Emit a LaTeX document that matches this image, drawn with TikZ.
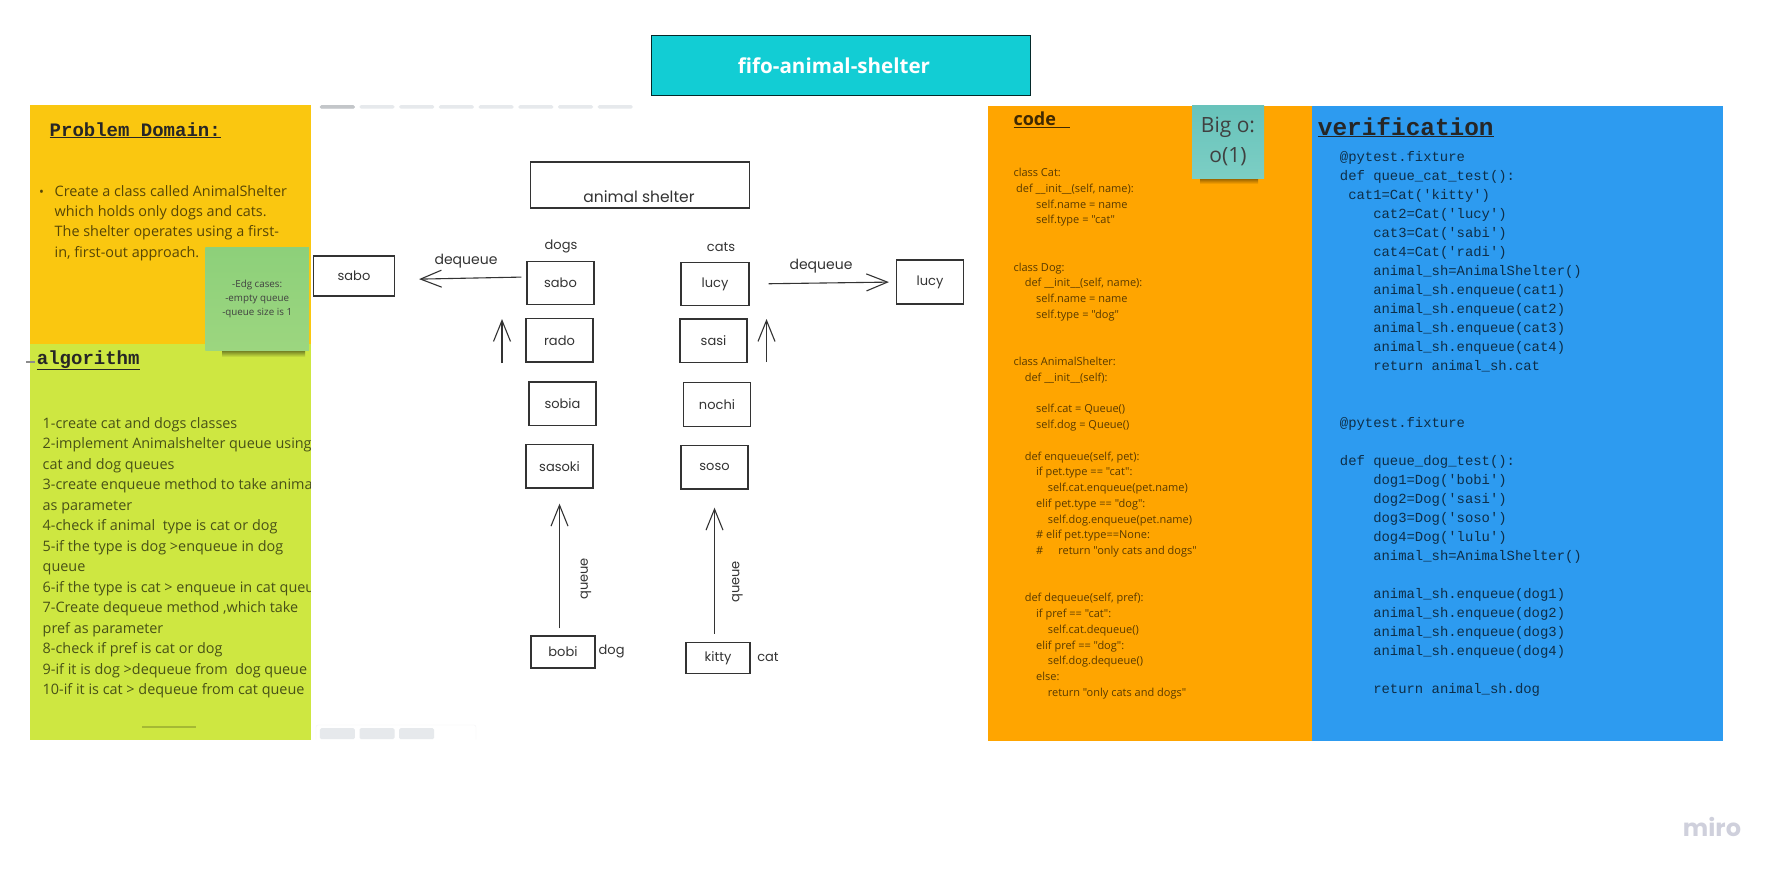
\documentclass[tikz,border=0pt]{standalone}
\usepackage{fontspec}
\usetikzlibrary{arrows.meta, positioning}
\newfontfamily\bodyfont{Open Sans}
\newfontfamily\monofont{Liberation Mono}
\newfontfamily\handfont{Poppins}
\definecolor{paneyellow}{HTML}{FAC710}
\definecolor{panelime}{HTML}{CEE741}
\definecolor{paneorange}{HTML}{FFA500}
\definecolor{paneblue}{HTML}{2D9BF0}
\definecolor{titlecyan}{HTML}{12CDD4}
\definecolor{pillgrey}{HTML}{E6E9EC}
\definecolor{sketchink}{HTML}{333333}
\definecolor{edgetop}{HTML}{8DD07A}
\definecolor{edgebottom}{HTML}{9CD67F}
\definecolor{bigotop}{HTML}{68C3BB}
\definecolor{bigobottom}{HTML}{7CCEC4}
\definecolor{logogrey}{HTML}{CFD0DC}
\newcommand{\ind}[1]{\hspace*{#1pt}}
\tikzset{
  paneltext/.style={inner sep=0pt, anchor=north west, align=left},
  monotext/.style={paneltext, font=\monofont\fontsize{13.9}{19}\selectfont, text=black!70!paneblue},
  sketchbox/.style={draw=sketchink, line width=1.2pt, minimum width=67pt, minimum height=43.5pt, inner sep=0pt, font=\handfont\fontsize{13}{15}\selectfont, text=sketchink},
  sketchtext/.style={inner sep=0pt, font=\handfont\fontsize{13}{15}\selectfont, text=sketchink},
  sketcharrow/.style={draw=sketchink, line width=1.1pt, ->},
  pill/.style={fill=pillgrey, rounded corners=1.5pt, minimum width=35pt, inner sep=0pt},
  sticky/.style={inner sep=0pt, align=center, text=black!75},
}
\begin{document}
\begin{tikzpicture}[x=1pt, y=-1pt, >={Straight Barb[length=21pt,width=17pt]}]
  \useasboundingbox (0,0) rectangle (1782,876);

  % panels
  \fill[paneyellow] (29.5,105) rectangle (320,345);
  \fill[panelime]   (29.5,344) rectangle (320,740);
  \fill[paneorange] (988,106) rectangle (1312,741);
  \fill[paneblue]   (1312,106) rectangle (1723,741);
  \node[draw=black!80!titlecyan, line width=1pt, fill=titlecyan, minimum width=379pt, minimum height=60pt, inner sep=0pt,
        text=white, font=\bodyfont\bfseries\fontsize{20.6}{25}\selectfont] (title) at (841,65.5) {fifo-animal-shelter\hspace*{14pt}};

  % left panel texts
  \node[inner sep=0pt, anchor=base west, font=\monofont\bfseries\fontsize{19}{22}\selectfont, text=black!85] (problem) at (49.5,136) {\underline{Problem~Domain:}};
  \node[inner sep=0pt, text=black!65!paneyellow, font=\bodyfont\fontsize{13}{15}\selectfont] (bullet) at (41.5,193) {•};
  \node[paneltext, text=black!65!paneyellow, font=\bodyfont\fontsize{14.4}{20.4}\selectfont] (problemtext) at (54.5,185) {Create a class called AnimalShelter\\which holds only dogs and cats.\\The shelter operates using a first-\\in, first-out approach.};
  \fill[black!45] (26,361) rectangle (35,363);
  \node[inner sep=0pt, anchor=base west, font=\monofont\bfseries\fontsize{19}{22}\selectfont, text=black!85] (algorithm) at (36.7,364) {\underline{algorithm}};
  \node[paneltext, text=black!65!panelime, font=\bodyfont\fontsize{14.4}{20.5}\selectfont] (algotext) at (42.5,417) {1-create cat and dogs classes\\
    2-implement Animalshelter queue using\\
    cat and dog queues\\
    3-create enqueue method to take animal\\
    as parameter\\
    4-check if animal\ \ type is cat or dog\\
    5-if the type is dog >enqueue in dog\\
    queue\\
    6-if the type is cat > enqueue in cat queue\\
    7-Create dequeue method ,which take\\
    pref as parameter\\
    8-check if pref is cat or dog\\
    9-if it is dog >dequeue from\ \ dog queue\\
    10-if it is cat > dequeue from cat queue};
  \fill[black!20!panelime] (141.6,726.4) rectangle (196,727.6);

  % sketch frame on top of the panel text
  \fill[white] (311,100) rectangle (988,745);
  \foreach \i in {0,...,7} {
    \node[pill, minimum height=3.5pt, anchor=north west] (toppill\i) at (319.6+39.7*\i,105) {};
  }
  \node[pill, minimum height=3.5pt, anchor=north west, fill=black!15!pillgrey] (toppillfirst) at (319.6,105) {};
  \draw[pillgrey!50, rounded corners=2pt] (316,739) -- (316,725) -- (476,725) -- (476,739);
  \foreach \i in {0,1,2} {
    \node[pill, minimum height=11pt, anchor=north west] (botpill\i) at (319.6+39.7*\i,728) {};
  }

  % sketch
  \node[sketchbox, minimum width=219pt, minimum height=46pt] (shelter) at (640,185) {};
  \node[sketchtext, font=\handfont\fontsize{15.5}{18}\selectfont] (sheltertext) at (639,197) {animal shelter};
  \node[sketchtext] (dogs) at (561,246) {dogs};
  \node[sketchtext] (cats) at (721,247) {cats};

  \node[sketchbox] (sabo) at (560.5,283) {sabo};
  \node[sketchbox] (rado) [below=57.3pt of sabo.center, anchor=center, xshift=-1pt] {rado};
  \node[sketchbox] (sobia) [below=63.5pt of rado.center, anchor=center, xshift=3pt] {sobia};
  \node[sketchbox] (sasoki) [below=62.5pt of sobia.center, anchor=center, xshift=-3pt] {sasoki};
  \node[sketchbox, minimum width=64pt, minimum height=32pt] (bobi) at (563,652) {bobi};
  \node[sketchtext] (dogtag) at (611.6,651) {dog};

  \node[sketchbox, minimum width=68pt] (lucy) at (715,284) {lucy};
  \node[sketchbox] (sasi) [below=56.7pt of lucy.center, anchor=center, xshift=-1.5pt] {sasi};
  \node[sketchbox] (nochi) [below=63.8pt of sasi.center, anchor=center, xshift=3.5pt] {nochi};
  \node[sketchbox] (soso) [below=62.8pt of nochi.center, anchor=center, xshift=-2.5pt] {soso};
  \node[sketchbox, minimum width=64pt, minimum height=31pt] (kitty) at (718,658) {kitty};
  \node[sketchtext] (cattag) at (768,657) {cat};

  \node[sketchbox, minimum width=81pt, minimum height=40pt] (saboout) at (354,276) {sabo};
  \node[sketchbox, minimum height=44pt] (lucyout) at (930,282) {lucy};
  \node[sketchtext, font=\handfont\fontsize{14}{16}\selectfont] (dequeueleft) at (466,261) {dequeue};
  \node[sketchtext, font=\handfont\fontsize{14}{16}\selectfont] (dequeueright) at (821,266) {dequeue};
  \node[sketchtext, rotate=90] (queueleft) at (586,579) {queue};
  \node[sketchtext, rotate=90] (queueright) at (737.5,582) {queue};

  \coordinate (dogup0) at (502,363);
  \coordinate (dogup1) at (502,319);
  \coordinate (catup0) at (766.5,362);
  \coordinate (catup1) at (766.5,319);

  \draw[sketcharrow, shorten <=5pt, shorten >=24pt] (sabo.170) -- (saboout.355);
  \draw[sketcharrow, shorten <=19pt, shorten >=7pt] (lucy.east) -- (lucyout.west);
  \draw[sketcharrow] (dogup0) -- (dogup1);
  \draw[sketcharrow] (catup0) -- (catup1);
  \draw[sketcharrow, shorten <=7pt, shorten >=15pt] (bobi.north -| sasoki.south) -- (sasoki.south);
  \draw[sketcharrow, shorten <=8pt, shorten >=18pt] (kitty.north -| soso.south) -- (soso.south);

  % code panel
  \node[inner sep=0pt, anchor=base west, font=\bodyfont\bfseries\fontsize{18}{22}\selectfont, text=black!75!paneorange] (code) at (1013.3,125.5) {\underline{code\ \ \ }};
  \node[paneltext, text=black!65!paneorange, font=\bodyfont\fontsize{11}{15.75}\selectfont] (codetext) at (1013.3,168) {class Cat:\\
    \ind{2.7}def \_\_init\_\_(self, name):\\
    \ind{22.7}self.name = name\\
    \ind{22.7}self.type = "cat"\\[31.5pt]
    class Dog:\\
    \ind{11.3}def \_\_init\_\_(self, name):\\
    \ind{22.7}self.name = name\\
    \ind{22.7}self.type = "dog"\\[31.5pt]
    class AnimalShelter:\\
    \ind{11.3}def \_\_init\_\_(self):\\[15.75pt]
    \ind{22.7}self.cat = Queue()\\
    \ind{22.7}self.dog = Queue()\\[15.75pt]
    \ind{11.3}def enqueue(self, pet):\\
    \ind{22.7}if pet.type == "cat":\\
    \ind{34.3}self.cat.enqueue(pet.name)\\
    \ind{22.7}elif pet.type == "dog":\\
    \ind{34.3}self.dog.enqueue(pet.name)\\
    \ind{22.7}\# elif pet.type==None:\\
    \ind{22.7}\#\ind{15}return "only cats and dogs"\\[31.5pt]
    \ind{11.3}def dequeue(self, pref):\\
    \ind{22.7}if pref == "cat":\\
    \ind{34.3}self.cat.dequeue()\\
    \ind{22.7}elif pref == "dog":\\
    \ind{34.3}self.dog.dequeue()\\
    \ind{22.7}else:\\
    \ind{34.3}return "only cats and dogs"};

  % verification panel
  \node[inner sep=0pt, anchor=base west, font=\monofont\bfseries\fontsize{24.4}{28}\selectfont, text=black!85] (verification) at (1317.7,135) {\underline{verification}};
  \node[monotext] (verifytext) at (1339.7,151) {@pytest.fixture\\
    def queue\_cat\_test():\\
    ~cat1=Cat('kitty')\\
    ~~~~cat2=Cat('lucy')\\
    ~~~~cat3=Cat('sabi')\\
    ~~~~cat4=Cat('radi')\\
    ~~~~animal\_sh=AnimalShelter()\\
    ~~~~animal\_sh.enqueue(cat1)\\
    ~~~~animal\_sh.enqueue(cat2)\\
    ~~~~animal\_sh.enqueue(cat3)\\
    ~~~~animal\_sh.enqueue(cat4)\\
    ~~~~return animal\_sh.cat\\[38pt]
    @pytest.fixture\\[19pt]
    def queue\_dog\_test():\\
    ~~~~dog1=Dog('bobi')\\
    ~~~~dog2=Dog('sasi')\\
    ~~~~dog3=Dog('soso')\\
    ~~~~dog4=Dog('lulu')\\
    ~~~~animal\_sh=AnimalShelter()\\[19pt]
    ~~~~animal\_sh.enqueue(dog1)\\
    ~~~~animal\_sh.enqueue(dog2)\\
    ~~~~animal\_sh.enqueue(dog3)\\
    ~~~~animal\_sh.enqueue(dog4)\\[19pt]
    ~~~~return animal\_sh.dog};

  % sticky notes
  \shade[bottom color=panelime, top color=black!50!panelime, draw=none] (222,350) rectangle (305,357);
  \node[sticky, top color=edgetop, bottom color=edgebottom, minimum width=103.5pt, minimum height=103pt, font=\bodyfont\fontsize{9.8}{14}\selectfont] (edgecases) at (257.2,298.5) {-Edg cases:\\-empty queue\\-queue size is 1};
  \shade[bottom color=paneorange, top color=black!45!paneorange, draw=none] (1200,178) rectangle (1258,184);
  \node[sticky, top color=bigotop, bottom color=bigobottom, minimum width=72pt, minimum height=73pt, font=\bodyfont\fontsize{21}{30}\selectfont] (bigo) at (1228,141.5) {Big o:\\o(1)};

  % logo
  \node[inner sep=0pt, font=\handfont\bfseries\fontsize{24}{30}\selectfont, text=logogrey] (miro) at (1712,827) {miro};
\end{tikzpicture}
\end{document}
